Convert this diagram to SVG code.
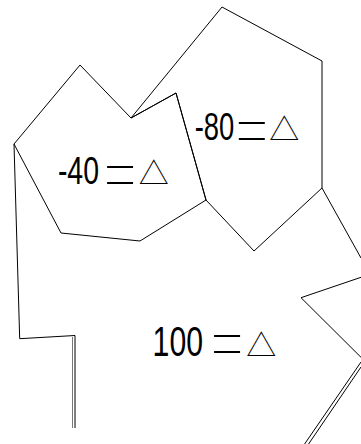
<svg xmlns="http://www.w3.org/2000/svg" width="361" height="444" viewBox="0 0 361 444">
  <style>
    .edge { fill: none; stroke: #000; stroke-width: 1; stroke-linejoin: miter; }
    .edge2 { fill: none; stroke: #777; stroke-width: 1; }
    .num { font-family: "Liberation Sans", Arial, sans-serif; fill: #000; text-anchor: end; }
    .eq { font-family: Roboto, "Noto Sans", sans-serif; font-weight: 100; font-size: 58px; fill: #000; text-anchor: middle; }
    .tri { font-family: "Noto Sans CJK JP", sans-serif; font-weight: 300; font-size: 30px; fill: #000; text-anchor: middle; }
  </style>
  <rect width="361" height="444" fill="#fff"/>
  <g id="region-minus80">
    <polygon class="edge" points="222,7 322,61 322,188 254,251 206,200 176,93 131,118"/>
    <text class="num" font-size="38" transform="translate(234.3,139.5) scale(0.72,1)">-80</text>
    <text class="eq" transform="translate(252,157) scale(1.1,1.35)">=</text>
    <text class="tri" x="284.3" y="139.5">△</text>
  </g>
  <g id="region-minus40">
    <polygon class="edge" points="80,65 131,118 176,93 206,200 140,241 61,233 14,144"/>
    <text class="num" font-size="39.5" transform="translate(99,184) scale(0.72,1)">-40</text>
    <text class="eq" transform="translate(120.3,200.7) scale(1.1,1.35)">=</text>
    <text class="tri" x="153.7" y="184">△</text>
  </g>
  <g id="region-100">
    <polyline class="edge" points="14,144 19.7,338.7 75,335.5 75,428"/>
    <polyline class="edge2" points="72.5,337 72.5,428"/>
    <polyline class="edge" points="322,188 361,258"/>
    <polyline class="edge" points="361,277.3 301,297.7 361,357.3"/>
    <line class="edge" x1="361" y1="362" x2="304.6" y2="444"/>
    <line class="edge" x1="361" y1="367" x2="308.6" y2="444"/>
    <text class="num" font-size="42" transform="translate(203,355.5) scale(0.72,1)">100</text>
    <text class="eq" transform="translate(227.2,370) scale(1.1,1.35)">=</text>
    <text class="tri" x="261.2" y="355.5">△</text>
  </g>
</svg>
